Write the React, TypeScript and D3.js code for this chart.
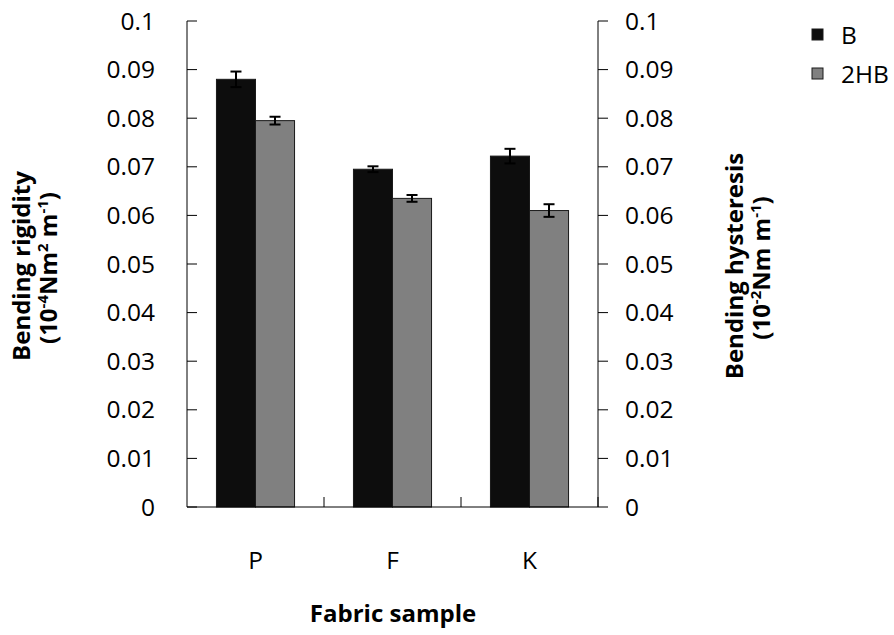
import React from 'react'
import * as d3 from 'd3'

const categories = ['P', 'F', 'K']
const seriesNames = ['B', '2HB']
const bValues = [0.088, 0.0695, 0.0722]
const bErrors = [0.0016, 0.0006, 0.0015]
const hbValues = [0.0795, 0.0635, 0.061]
const hbErrors = [0.0008, 0.0007, 0.0013]
const yTicks = [0, 0.01, 0.02, 0.03, 0.04, 0.05, 0.06, 0.07, 0.08, 0.09, 0.1]
const colors = ['#0d0d0d', '#808080']

const W = 894
const H = 635
const left = 187
const right = 598
const top = 21
const bottom = 507
const font = "'Open Sans', 'Noto Sans', sans-serif"
const tickSize = 24.5
const titleSize = 24

const App = () => {
  const x = d3.scaleBand().domain(categories).range([left, right]).paddingInner(0).paddingOuter(0)
  const y = d3.scaleLinear().domain([0, 0.1]).range([bottom, top])
  const bandW = x.bandwidth()
  const barW = bandW * 0.285
  const series = [
    { name: seriesNames[0], values: bValues, errors: bErrors },
    { name: seriesNames[1], values: hbValues, errors: hbErrors }
  ]
  const fmt = (d: number) => (d === 0 ? '0' : String(+d.toFixed(2)))
  const sup = 15

  return (
    <svg width={W} height={H} style={{ position: 'absolute', left: 0, top: 0, background: '#fff' }}>
      {/* bars */}
      {series.map((s, si) =>
        categories.map((c, ci) => {
          const x0 = (x(c) as number) + bandW / 2 - barW + si * barW
          return (
            <rect
              key={s.name + c}
              x={x0}
              y={y(s.values[ci])}
              width={barW}
              height={bottom - y(s.values[ci])}
              fill={colors[si]}
              stroke="#1a1a1a"
              strokeWidth={1}
            />
          )
        })
      )}
      {/* error bars */}
      {series.map((s, si) =>
        categories.map((c, ci) => {
          const cx = (x(c) as number) + bandW / 2 - barW / 2 + si * barW
          const hi = y(s.values[ci] + s.errors[ci])
          const lo = y(s.values[ci] - s.errors[ci])
          return (
            <g key={'e' + s.name + c} stroke="#000" strokeWidth={2}>
              <line x1={cx} x2={cx} y1={hi} y2={lo} />
              <line x1={cx - 5.5} x2={cx + 5.5} y1={hi} y2={hi} />
              <line x1={cx - 5.5} x2={cx + 5.5} y1={lo} y2={lo} />
            </g>
          )
        })
      )}
      {/* axes */}
      <g stroke="#000" strokeWidth={1} fill="none">
        <line x1={left} x2={left} y1={top} y2={bottom} />
        <line x1={right} x2={right} y1={top} y2={bottom} />
        <line x1={left} x2={right} y1={bottom} y2={bottom} />
        {yTicks.map((t) => (
          <line key={'l' + t} x1={left} x2={left + 10} y1={y(t)} y2={y(t)} />
        ))}
        {yTicks.map((t) => (
          <line key={'r' + t} x1={right} x2={right + 10} y1={y(t)} y2={y(t)} />
        ))}
        {categories.map((c) => (
          <line key={'x' + c} x1={(x(c) as number) + bandW} x2={(x(c) as number) + bandW} y1={bottom} y2={bottom - 10} />
        ))}
      </g>
      <g fontFamily={font} fontSize={tickSize} fill="#000">
        {yTicks.map((t) => (
          <text key={'lt' + t} x={155} y={y(t)} dy="0.35em" textAnchor="end">
            {fmt(t)}
          </text>
        ))}
        {yTicks.map((t) => (
          <text key={'rt' + t} x={625} y={y(t)} dy="0.35em" textAnchor="start">
            {fmt(t)}
          </text>
        ))}
        {categories.map((c) => (
          <text key={'xt' + c} x={(x(c) as number) + bandW / 2} y={560} dy="0.35em" textAnchor="middle">
            {c}
          </text>
        ))}
      </g>
      {/* axis titles */}
      <g fontFamily={font} fontSize={titleSize} fontWeight="bold" fill="#000" textAnchor="middle">
        <text x={393} y={614} dy="0.35em">
          Fabric sample
        </text>
        <g transform="translate(22,266) rotate(-90)">
          <text x={0} y={0} dy="0.35em">Bending rigidity</text>
          <text x={-2} y={27} dy="0.35em">
            (10<tspan dy="-9" fontSize={sup}>-4</tspan>
            <tspan dy="9">Nm</tspan>
            <tspan dy="-9" fontSize={sup}>2</tspan>
            <tspan dy="9"> m</tspan>
            <tspan dy="-9" fontSize={sup}>-1</tspan>
            <tspan dy="9">)</tspan>
          </text>
        </g>
        <g transform="translate(735,266) rotate(-90)">
          <text x={0} y={0} dy="0.35em">Bending hysteresis</text>
          <text x={-2} y={27} dy="0.35em">
            (10<tspan dy="-9" fontSize={sup}>-2</tspan>
            <tspan dy="9">Nm m</tspan>
            <tspan dy="-9" fontSize={sup}>-1</tspan>
            <tspan dy="9">)</tspan>
          </text>
        </g>
      </g>
      {/* legend */}
      {series.map((s, si) => (
        <g key={'lg' + s.name} transform={`translate(812,${29 + si * 39})`}>
          <rect x={0} y={0} width={11} height={11} fill={colors[si]} stroke="#1a1a1a" />
          <text x={29} y={6} dy="0.35em" fontFamily={font} fontSize={tickSize} fill="#000">
            {s.name}
          </text>
        </g>
      ))}
    </svg>
  )
}

export default App
